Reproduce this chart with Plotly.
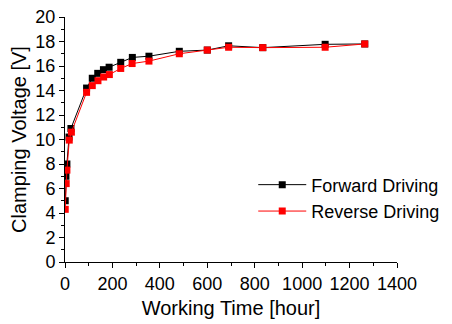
import plotly.graph_objects as go

time_fwd = [1, 4, 8, 17, 25, 91, 115, 138, 162, 186, 235, 284, 354, 482, 600, 690, 834, 1097, 1264]
volt_fwd = [5.0, 7.0, 8.0, 10.2, 10.9, 14.2, 15.0, 15.4, 15.7, 15.9, 16.3, 16.7, 16.8, 17.2, 17.3, 17.65, 17.5, 17.77, 17.8]

time_rev = [1, 5, 8, 18, 27, 91, 115, 139, 163, 187, 235, 283, 354, 482, 600, 690, 834, 1097, 1264]
volt_rev = [4.3, 6.4, 7.5, 9.95, 10.6, 13.85, 14.4, 14.8, 15.1, 15.3, 15.8, 16.2, 16.4, 17.0, 17.3, 17.53, 17.5, 17.53, 17.8]

names = ["Forward Driving", "Reverse Driving"]
colors = ["#000000", "#ff0000"]

FONT = "Liberation Sans, Arial, sans-serif"

fig = go.Figure()
for t, v, n, c in [(time_fwd, volt_fwd, names[0], colors[0]), (time_rev, volt_rev, names[1], colors[1])]:
    fig.add_trace(go.Scatter(
        x=t, y=v, name=n, mode="lines+markers",
        line=dict(color=c, width=1),
        marker=dict(symbol="square", size=7, color=c),
    ))

axis_common = dict(
    showline=True, linecolor="black", linewidth=1,
    ticks="outside", ticklen=5, tickwidth=1, tickcolor="black",
    showgrid=False, zeroline=False, mirror=False, automargin=True,
    ticklabeloverflow="allow",
    tickfont=dict(family=FONT, size=18, color="black"),
)

fig.update_layout(
    width=444, height=316,
    margin=dict(l=57, r=55, t=9, b=62, autoexpand=False),
    paper_bgcolor="white", plot_bgcolor="white",
    font=dict(family=FONT, size=18, color="black"),
    xaxis=dict(
        range=[0, 1400], tickmode="linear", tick0=0, dtick=200,
        minor=dict(dtick=100, ticks="outside", ticklen=3, tickcolor="black"),
        title=dict(text="Working Time [hour]", font=dict(family=FONT, size=20), standoff=8),
        **axis_common,
    ),
    yaxis=dict(
        range=[0, 20], tickmode="linear", tick0=0, dtick=2,
        minor=dict(dtick=1, ticks="outside", ticklen=3, tickcolor="black"),
        title=dict(text="Clamping Voltage [V]", font=dict(family=FONT, size=20), standoff=12),
        **axis_common,
    ),
    showlegend=True,
    legend=dict(
        x=0.567, y=0.39, xanchor="left", yanchor="top",
        bgcolor="rgba(0,0,0,0)", borderwidth=0, itemwidth=48,
        font=dict(family=FONT, size=18, color="black"),
        tracegroupgap=0,
    ),
)

fig.write_html("out.html")
